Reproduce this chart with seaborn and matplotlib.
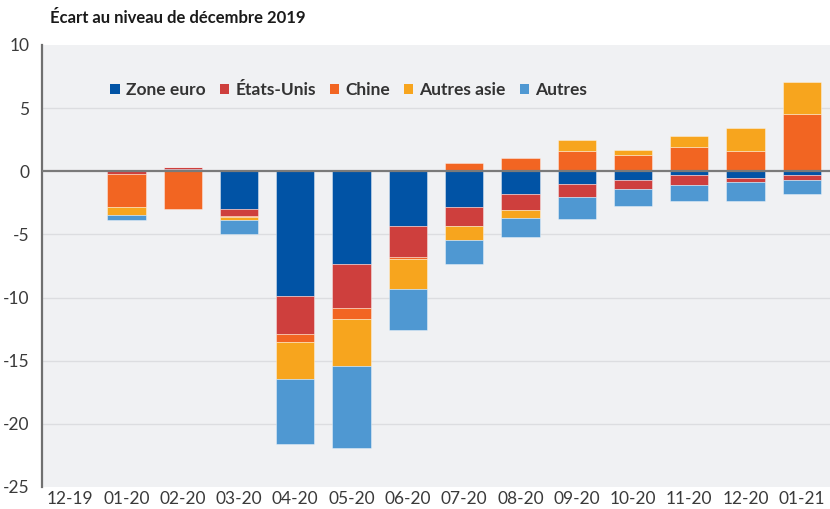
import numpy as np
import pandas as pd
import matplotlib
matplotlib.use("Agg")
import matplotlib.pyplot as plt
from matplotlib.patches import Patch
import seaborn as sns

months = ["12-19", "01-20", "02-20", "03-20", "04-20", "05-20", "06-20",
          "07-20", "08-20", "09-20", "10-20", "11-20", "12-20", "01-21"]
zone_euro = [0, 0, 0.2, -2.96, -9.85, -7.33, -4.3, -2.86, -1.77, -1.03, -0.66, -0.32, -0.5, -0.29]
etats_unis = [0, -0.2, 0.15, -0.55, -3.0, -3.49, -2.5, -1.51, -1.33, -1.03, -0.72, -0.74, -0.32, -0.42]
chine = [0, -2.65, -2.96, -0.08, -0.67, -0.85, -0.18, 0.69, 1.03, 1.59, 1.32, 1.96, 1.64, 4.55]
autres_asie = [0, -0.65, 0, -0.28, -2.95, -3.78, -2.33, -1.11, -0.6, 0.87, 0.37, 0.87, 1.82, 2.54]
autres = [0, -0.37, 0, -1.12, -5.15, -6.48, -3.26, -1.9, -1.5, -1.7, -1.35, -1.32, -1.56, -1.09]

series_names = ["Zone euro", "États-Unis", "Chine", "Autres asie", "Autres"]
series_values = [zone_euro, etats_unis, chine, autres_asie, autres]
colors = ["#0153A5", "#CE3F3D", "#F26522", "#F7A51E", "#4F98D2"]

plt.rcParams["axes.unicode_minus"] = False
sns.set_style("white")
plt.rcParams["font.family"] = ["Lato", "DejaVu Sans"]

fig = plt.figure(figsize=(8.3, 5.09), dpi=100)
ax = fig.add_axes([42 / 830, 1 - 487 / 509, 1 - 42 / 830, (487 - 45) / 509])
ax.set_facecolor("#F0F1F3")

pos_base = np.zeros(len(months))
neg_base = np.zeros(len(months))
for name, vals, col in zip(series_names, series_values, colors):
    v = np.array(vals, dtype=float)
    bottom = np.where(v >= 0, pos_base, neg_base)
    df = pd.DataFrame({"mois": months, "val": v})
    sns.barplot(data=df, x="mois", y="val", order=months, color=col,
                saturation=1, width=0.68, bottom=bottom, ax=ax,
                edgecolor=(1, 1, 1, 0.45), linewidth=0.6, errorbar=None, zorder=3)
    pos_base = pos_base + np.where(v >= 0, v, 0)
    neg_base = neg_base + np.where(v < 0, v, 0)

ax.set_ylim(-25, 10)
ax.set_xlim(-0.5, len(months) - 0.5)
ax.set_yticks(np.arange(-25, 11, 5))
ax.set_yticklabels([str(t) for t in range(-25, 11, 5)])
for t in [-20, -15, -10, -5, 5]:
    ax.axhline(t, color="#DCDDE0", linewidth=1.0, zorder=1)
ax.axhline(0, color="#7A7A7A", linewidth=1.6, zorder=4)

ax.set_xlabel("")
ax.set_ylabel("")
ax.set_xticks(range(len(months)))
ax.set_xticklabels(months)
ax.set_xticks(np.arange(0.5, len(months) - 0.5, 1), minor=True)
ax.tick_params(axis="x", which="major", length=0, pad=3, labelsize=12.5, colors="#3A3A3A")
ax.tick_params(axis="x", which="minor", length=4, width=0.8, color="#9A9A9A", direction="out")
ax.tick_params(axis="y", length=0, pad=9, labelsize=12.5, colors="#3A3A3A")

for s in ["top", "right", "bottom"]:
    ax.spines[s].set_visible(False)
ax.spines["left"].set_color("#707070")
ax.spines["left"].set_linewidth(1.6)

handles = [Patch(facecolor=c, edgecolor="none") for c in colors]
leg = ax.legend(handles, series_names, ncol=5, frameon=False,
                loc="center left", bbox_to_anchor=(0.078, 0.898),
                handlelength=0.55, handleheight=0.55, handletextpad=0.35,
                columnspacing=0.8, borderaxespad=0,
                prop={"size": 12.5, "weight": "bold"})
for t in leg.get_texts():
    t.set_color("#333333")

fig.text(50 / 830, 1 - 18 / 509, "Écart au niveau de décembre 2019",
         fontsize=12, fontweight="bold", color="#1A1A1A", va="center", ha="left")

fig.savefig("out.png", dpi=100, facecolor="white")
